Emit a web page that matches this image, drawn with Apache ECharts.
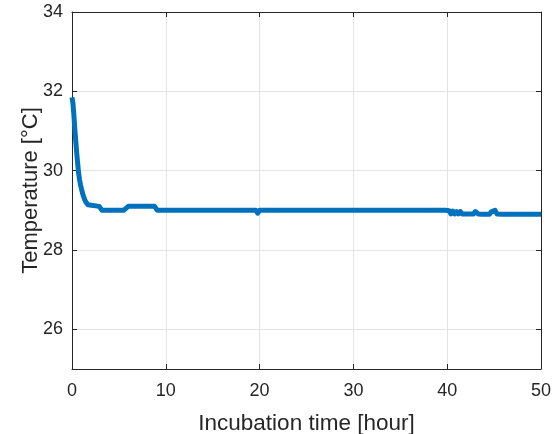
<!DOCTYPE html>
<html>
<head>
<meta charset="utf-8">
<script src="https://cdn.jsdelivr.net/npm/echarts@6/dist/echarts.min.js"></script>
<style>html,body{margin:0;padding:0;background:#fff}#c{width:553px;height:434px}</style>
</head>
<body>
<div id="c"></div>
<script>
// Incubation time [hour]
var hours = [0, 0.1, 0.2, 0.3, 0.4, 0.5, 0.6, 0.7, 0.8, 0.9, 1.0, 1.1, 1.2, 1.35, 1.5, 1.7, 1.9,
  2.9, 3.2, 5.5, 6.0, 8.8, 9.1, 19.6, 19.8, 20.0, 39.8,
  40.0, 40.2, 40.4, 40.6, 40.8, 41.0, 41.2, 41.4, 41.6, 41.8, 42.0, 42.2, 42.4, 42.6, 42.8, 43.0, 43.1,
  43.3, 43.5, 43.7, 43.9, 44.1, 44.3, 44.5, 44.7, 44.9, 45.1, 45.3, 45.5, 45.8, 50];
// Temperature [°C]
var temps = [31.85, 31.7, 31.4, 31.05, 30.75, 30.45, 30.2, 29.95, 29.78, 29.65, 29.55, 29.45, 29.37, 29.27, 29.2, 29.14, 29.1,
  29.1, 29.0, 29.0, 29.1, 29.1, 29.0, 29.0, 28.93, 29.0, 29.0,
  28.96, 28.99, 28.91, 28.98, 28.91, 28.97, 28.91, 28.97, 28.91, 28.96, 28.91, 28.96, 28.91, 28.96, 28.91, 28.97, 29.0,
  28.91, 28.95, 28.9, 28.95, 28.9, 28.95, 28.9, 28.96, 28.91, 29.0, 28.91, 28.95, 28.9, 28.9];
var xTicks = [0, 10, 20, 30, 40, 50];
var yTicks = [26, 28, 30, 32, 34];

var font = "'Liberation Sans', Arial, Helvetica, sans-serif";
var axisColor = '#262626';
var gridColor = '#e3e3e3';
var pts = hours.map(function (h, i) { return [h, temps[i]]; });

var chart = echarts.init(document.getElementById('c'), null, {renderer: 'canvas'});
chart.setOption({
  animation: false,
  backgroundColor: '#fff',
  grid: {left: 72, right: 12, top: 12, bottom: 65, containLabel: false, outerBoundsMode: 'none'},
  xAxis: [{
    type: 'value', min: 0, max: 50, interval: 10,
    name: 'Incubation time [hour]', nameLocation: 'middle', nameGap: 43,
    nameTextStyle: {fontFamily: font, fontSize: 22.5, color: axisColor},
    axisLine: {show: true, onZero: false, lineStyle: {color: axisColor, width: 1}},
    axisTick: {show: true, inside: true, length: 5, lineStyle: {color: axisColor}},
    axisLabel: {fontFamily: font, fontSize: 18, color: axisColor, margin: 13},
    splitLine: {show: true, lineStyle: {color: gridColor, width: 1}}
  }, {
    type: 'value', min: 0, max: 50, interval: 10, position: 'top',
    axisLine: {show: true, onZero: false, lineStyle: {color: axisColor, width: 1}},
    axisTick: {show: true, inside: true, length: 5, lineStyle: {color: axisColor}},
    axisLabel: {show: false}, splitLine: {show: false}
  }],
  yAxis: [{
    type: 'value', min: 25, max: 34,
    name: 'Temperature [°C]', nameLocation: 'middle', nameGap: 30, nameMoveOverlap: false,
    nameTextStyle: {fontFamily: font, fontSize: 22, color: axisColor},
    axisLine: {show: true, onZero: false, lineStyle: {color: axisColor, width: 1}},
    axisTick: {show: true, inside: true, length: 5, customValues: yTicks, lineStyle: {color: axisColor}},
    axisLabel: {fontFamily: font, fontSize: 18, color: axisColor, margin: 9, customValues: yTicks},
    splitLine: {show: true, lineStyle: {color: gridColor, width: 1}}
  }, {
    type: 'value', min: 25, max: 34, position: 'right',
    axisLine: {show: true, onZero: false, lineStyle: {color: axisColor, width: 1}},
    axisTick: {show: true, inside: true, length: 5, customValues: yTicks, lineStyle: {color: axisColor}},
    axisLabel: {show: false, customValues: yTicks}, splitLine: {show: false}
  }],
  series: [{
    type: 'line', xAxisIndex: 0, yAxisIndex: 0,
    data: pts, showSymbol: false, symbol: 'none',
    lineStyle: {color: '#0072BD', width: 5, join: 'round'},
    itemStyle: {color: '#0072BD'}
  }]
});
</script>
</body>
</html>
